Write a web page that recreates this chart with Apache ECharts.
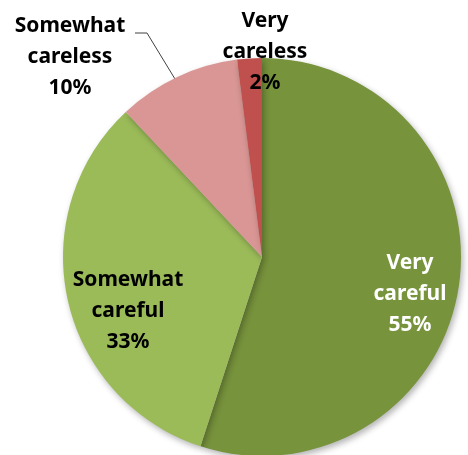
<!DOCTYPE html>
<html>
<head>
<meta charset="utf-8">
<script src="https://cdn.jsdelivr.net/npm/echarts@6/dist/echarts.min.js"></script>
<style>
  html, body { margin: 0; padding: 0; background: #fff; }
  #chart { width: 468px; height: 455px; }
</style>
</head>
<body>
<div id="chart"></div>
<script>
// slice names (line breaks as in the original labels) and shares in percent
var names = ['Very\ncareful', 'Somewhat\ncareful', 'Somewhat\ncareless', 'Very\ncareless'];
var shares = [55, 33, 10, 2];
var colors = ['#77933C', '#9BBB59', '#D99694', '#C0504D'];
var labelColors = ['#ffffff', '#000000', '#000000', '#000000'];

// where each label block sits (centre of the block), pixels
var labelPos = [[410, 294], [128, 311], [70, 57], [265, 52]];

var chart = echarts.init(document.getElementById('chart'));

var pieData = [];
for (var i = 0; i < names.length; i++) {
  pieData.push({
    name: names[i],
    value: shares[i],
    itemStyle: { color: colors[i] },
    label: { color: labelColors[i], position: i < 2 ? 'inner' : 'outside' },
    labelLine: { show: i == 2 }
  });
}

var option = {
  animation: false,
  series: [{
    type: 'pie',
    center: [262, 257],
    radius: [0, 199],
    startAngle: 90,
    clockwise: true,
    percentPrecision: 0,
    avoidLabelOverlap: false,
    data: pieData,
    itemStyle: {
      shadowBlur: 6,
      shadowOffsetX: 2,
      shadowOffsetY: 3,
      shadowColor: 'rgba(0,0,0,0.3)'
    },
    label: {
      show: true,
      formatter: '{b}\n{d}%',
      fontFamily: 'Noto Sans',
      fontWeight: 'bold',
      fontSize: 21,
      lineHeight: 31,
      align: 'center',
      overflow: 'none'
    },
    labelLine: {
      show: true,
      lineStyle: { color: '#404040', width: 1 }
    },
    labelLayout: function (params) {
      var p = labelPos[params.dataIndex];
      var out = { x: p[0], y: p[1], align: 'center', verticalAlign: 'middle', hideOverlap: false };
      if (params.dataIndex == 2) {
        out.labelLinePoints = [[175, 79], [147, 33], [135, 33]];
      }
      return out;
    },
    emphasis: { disabled: true }
  }]
};
chart.setOption(option);
</script>
</body>
</html>
